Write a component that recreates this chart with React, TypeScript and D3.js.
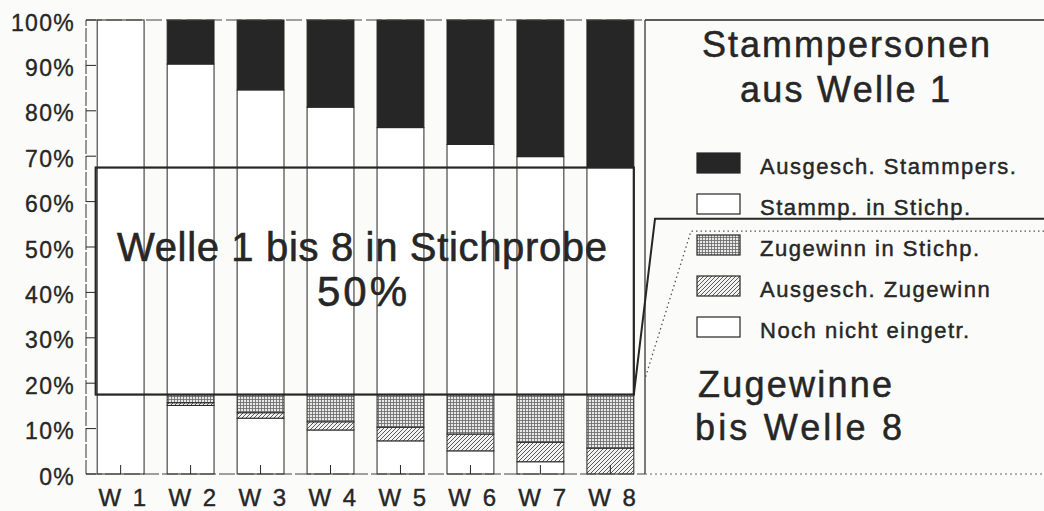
import React from "react";
import * as d3 from "d3";

// ---------- data ----------
const waves = ["W 1", "W 2", "W 3", "W 4", "W 5", "W 6", "W 7", "W 8"];
// stacked shares in percent, bottom -> top
const nochNichtEingetr = [17.5, 15.1, 12.3, 9.7, 7.3, 5.1, 2.7, 0];
const ausgeschZugewinn = [0, 0.6, 1.2, 1.8, 3.0, 3.7, 4.3, 5.7];
const zugewinnInStichp = [0, 1.8, 4.0, 6.0, 7.2, 8.7, 10.5, 11.8];
const stammpInStichp = [82.5, 72.8, 67.1, 63.3, 58.8, 55.1, 52.4, 50.0];
const ausgeschStammpers = [0, 9.7, 15.4, 19.2, 23.7, 27.4, 30.1, 32.5];

const seriesKeys = ["noch", "ausZug", "zugIn", "stammIn", "ausStamm"];
const legendLabels = [
  "Ausgesch. Stammpers.",
  "Stammp. in Stichp.",
  "Zugewinn in Stichp.",
  "Ausgesch. Zugewinn",
  "Noch nicht eingetr.",
];
const legendKeys = ["ausStamm", "stammIn", "zugIn", "ausZug", "noch"];

const yTicks = [0, 10, 20, 30, 40, 50, 60, 70, 80, 90, 100];
const yTickLabels = yTicks.map((t) => `${t}%`);

// annotation levels (percent)
const panelBand = [17.5, 67.5]; // "Welle 1 bis 8 in Stichprobe"
const panelTitle = "Welle 1 bis 8 in Stichprobe";
const panelValue = "50%";
const stammBracketLevel = 56.2;
const zugBracketLevel = 53.5;
const zugBracketJoin = 21;
const stammTitle = ["Stammpersonen", "aus Welle 1"];
const zugTitle = ["Zugewinne", "bis Welle 8"];

// ---------- layout ----------
const W = 1044;
const H = 511;
const FONT = "'Liberation Sans', Arial, Helvetica, sans-serif";
const INK = "#262626";

const x = d3
  .scaleBand<string>()
  .domain(waves)
  .range([86, 645])
  .paddingInner(0.33)
  .paddingOuter(0.16);
const y = d3.scaleLinear().domain([0, 100]).range([474, 20]);

const table = waves.map((w, i) => ({
  wave: w,
  noch: nochNichtEingetr[i],
  ausZug: ausgeschZugewinn[i],
  zugIn: zugewinnInStichp[i],
  stammIn: stammpInStichp[i],
  ausStamm: ausgeschStammpers[i],
}));
const stacked = d3.stack<any>().keys(seriesKeys)(table);

const fillFor: Record<string, string> = {
  noch: "#ffffff",
  ausZug: "url(#hatch)",
  zugIn: "url(#grid)",
  stammIn: "#ffffff",
  ausStamm: "#262626",
};

export default function App() {
  const bw = x.bandwidth();
  const x0 = x.range()[0];
  const x1 = x.range()[1];
  const boxL = (x(waves[0]) as number) - 1.5;
  const boxR = (x(waves[waves.length - 1]) as number) + bw;
  const line = d3.line();
  const bold = (w: number) => ({ stroke: INK, strokeWidth: w, fill: INK });

  return (
    <svg
      width={W}
      height={H}
      style={{ position: "absolute", left: 0, top: 0, background: "#fbfbf9" }}
      fontFamily={FONT}
    >
      <defs>
        <pattern id="grid" patternUnits="userSpaceOnUse" width="3" height="3">
          <rect width="3" height="3" fill="#e8e8e8" />
          <path d="M0 0.5H3M0.5 0V3" stroke="#666" strokeWidth="0.8" />
        </pattern>
        <pattern id="hatch" patternUnits="userSpaceOnUse" width="4" height="4">
          <rect width="4" height="4" fill="#f2f2f2" />
          <path d="M-1 1L1 -1M0 4L4 0M3 5L5 3" stroke="#333" strokeWidth="0.8" />
        </pattern>
      </defs>

      {/* bars */}
      {stacked.map((s) => (
        <g key={s.key}>
          {s.map((d, i) => (
            <rect
              key={i}
              x={x(waves[i])}
              width={bw}
              y={y(d[1])}
              height={Math.max(0, y(d[0]) - y(d[1]))}
              fill={fillFor[s.key]}
              stroke={INK}
              strokeWidth={1}
            />
          ))}
        </g>
      ))}

      {/* frame */}
      <line x1={x0} x2={x0} y1={y(0)} y2={y(100)} stroke="#555" strokeWidth={1.2} strokeDasharray="14 2" />
      <line x1={x0} x2={x1} y1={y(100)} y2={y(100)} stroke="#444" strokeWidth={1.2} strokeDasharray="16 4" />
      <line x1={x0} x2={x1} y1={y(0)} y2={y(0)} stroke="#444" strokeWidth={1.2} strokeDasharray="16 3" />
      <line x1={x1} x2={x1} y1={y(0)} y2={y(100)} stroke={INK} strokeWidth={1.2} />

      {/* y ticks */}
      {yTicks.map((t, i) => (
        <g key={t}>
          <line x1={x0} x2={x0 + 10} y1={y(t)} y2={y(t)} stroke={INK} strokeWidth={1} />
          <text
            x={75}
            y={y(t) + 10.5}
            textAnchor="end"
            fontSize={23}
            letterSpacing={1.3}
            {...bold(0.35)}
          >
            {yTickLabels[i]}
          </text>
        </g>
      ))}

      {/* x ticks + labels */}
      {waves.map((w) => {
        const cx = (x(w) as number) + bw / 2;
        return (
          <g key={w}>
            <line x1={cx} x2={cx} y1={y(0)} y2={y(0) - 9} stroke={INK} strokeWidth={1} />
            <text x={cx + 3} y={506} textAnchor="middle" fontSize={24} letterSpacing={2.5} {...bold(0.4)}>
              {w}
            </text>
          </g>
        );
      })}

      {/* central box */}
      <rect
        x={boxL}
        y={y(panelBand[1])}
        width={boxR - boxL}
        height={y(panelBand[0]) - y(panelBand[1])}
        fill="none"
        stroke={INK}
        strokeWidth={2.2}
      />
      <text x={117} y={261} fontSize={40} textLength={490} lengthAdjust="spacing" {...bold(0.6)}>
        {panelTitle}
      </text>
      <text x={317} y={306} fontSize={42} textLength={90} lengthAdjust="spacing" {...bold(0.6)}>
        {panelValue}
      </text>

      {/* right side brackets */}
      <path
        d={line([
          [x1, y(100)],
          [W, y(100)],
        ]) as string}
        stroke={INK}
        strokeWidth={1.6}
        fill="none"
      />
      <path
        d={line([
          [boxR, y(panelBand[0])],
          [655, y(stammBracketLevel)],
          [W, y(stammBracketLevel)],
        ]) as string}
        stroke={INK}
        strokeWidth={2}
        fill="none"
      />
      <path
        d={line([
          [W, y(zugBracketLevel)],
          [691, y(zugBracketLevel)],
          [x1, y(zugBracketJoin)],
        ]) as string}
        stroke="#555"
        strokeWidth={1.3}
        strokeDasharray="1.5 3"
        fill="none"
      />
      <path
        d={line([
          [x1, y(0)],
          [W, y(0)],
        ]) as string}
        stroke="#666"
        strokeWidth={1.2}
        strokeDasharray="2 3"
        fill="none"
      />

      {/* right titles */}
      <text x={702} y={57} fontSize={36} textLength={288} lengthAdjust="spacing" {...bold(0.5)}>
        {stammTitle[0]}
      </text>
      <text x={740} y={102} fontSize={36} textLength={210} lengthAdjust="spacing" {...bold(0.5)}>
        {stammTitle[1]}
      </text>
      <text x={698} y={397} fontSize={36} textLength={194} lengthAdjust="spacing" {...bold(0.5)}>
        {zugTitle[0]}
      </text>
      <text x={695} y={440} fontSize={36} textLength={207} lengthAdjust="spacing" {...bold(0.5)}>
        {zugTitle[1]}
      </text>

      {/* legend */}
      {legendKeys.map((k, i) => {
        const top = 153 + i * 41;
        return (
          <g key={k}>
            <rect x={697} y={top} width={43} height={20} fill={fillFor[k]} stroke={INK} strokeWidth={1.2} />
            <text x={760} y={top + 20.5} fontSize={22} letterSpacing={1.5} {...bold(0.45)}>
              {legendLabels[i]}
            </text>
          </g>
        );
      })}
    </svg>
  );
}
